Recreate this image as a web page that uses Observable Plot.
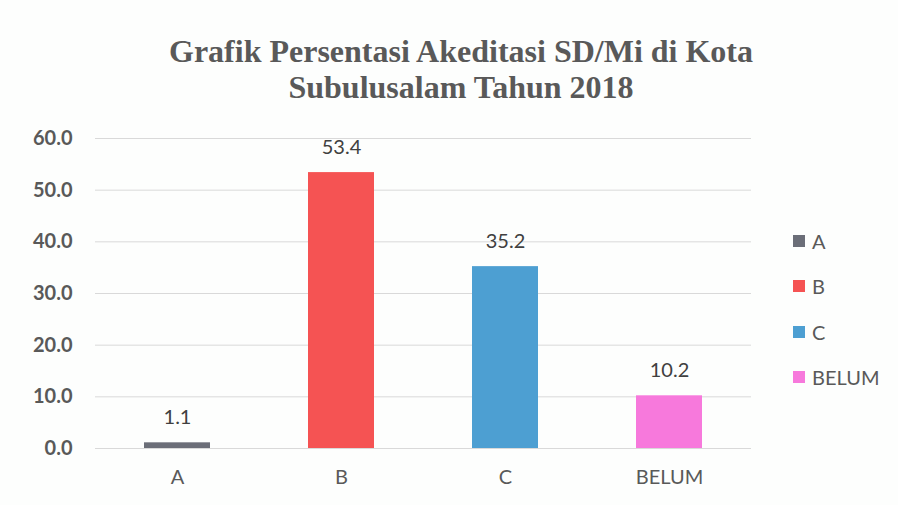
<!DOCTYPE html>
<html>
<head>
<meta charset="utf-8">
<script src="https://cdn.jsdelivr.net/npm/d3@7"></script>
<script src="https://cdn.jsdelivr.net/npm/@observablehq/plot@0.6"></script>
<style>
  html, body { margin: 0; padding: 0; background: #ffffff; }
  #wrap { position: relative; width: 898px; height: 505px; overflow: hidden; background: #fdfefd; }
  #title { position: absolute; left: 0; top: 33px; width: 922px; text-align: center;
    font-family: "Liberation Serif", "Times New Roman", serif; font-weight: bold; font-size: 32px;
    line-height: 36px; color: #595959; }
  #legend { position: absolute; left: 793px; top: 228px; font-family: Lato, "Open Sans", sans-serif;
    font-size: 20px; color: #595959; }
  .item { height: 45.3px; display: flex; align-items: flex-start; line-height: 26px; }
  .sw { width: 12px; height: 12px; margin-right: 7px; margin-top: 7px; }
  #chart { position: absolute; left: 0; top: 0; }
</style>
</head>
<body>
<div id="wrap">
  <div id="chart"></div>
  <div id="title">Grafik Persentasi Akeditasi SD/Mi di Kota<br>Subulusalam Tahun 2018</div>
  <div id="legend"></div>
</div>
<script>
const categories = ["A", "B", "C", "BELUM"];
const values = [1.1, 53.4, 35.2, 10.2];
const colors = ["#6b6e78", "#f55353", "#4d9fd2", "#f779dc"];
const yTicks = [0, 10, 20, 30, 40, 50, 60];

const data = categories.map((c, i) => ({cat: c, val: values[i]}));

const plot = Plot.plot({
  width: 898,
  height: 505,
  marginLeft: 95,
  marginRight: 147,
  marginTop: 138,
  marginBottom: 57,
  style: {background: "transparent", fontFamily: "Lato, 'Open Sans', sans-serif"},
  x: {domain: categories, paddingInner: 0.6, paddingOuter: 0.3, label: null},
  y: {domain: [0, 60], label: null},
  color: {domain: categories, range: colors},
  marks: [
    Plot.gridY(yTicks, {stroke: "#d9d9d9", strokeOpacity: 1, strokeWidth: 1}),
    Plot.axisY(yTicks, {tickSize: 0, tickPadding: 23, tickFormat: d => d.toFixed(1),
      fontSize: 20, fontWeight: "bold", fill: "#595959", label: null}),
    Plot.axisX({tickSize: 0, tickPadding: 21, fontSize: 20, fill: "#595959", label: null}),
    Plot.barY(data, {x: "cat", y: "val", fill: "cat"}),
    Plot.text(data, {x: "cat", y: "val", text: d => d.val.toFixed(1), dy: -25,
      fontSize: 20, fill: "#404040"})
  ]
});
document.getElementById("chart").appendChild(plot);

const leg = document.getElementById("legend");
categories.forEach((c, i) => {
  const it = document.createElement("div");
  it.className = "item";
  const sw = document.createElement("div");
  sw.className = "sw";
  sw.style.background = colors[i];
  const t = document.createElement("span");
  t.textContent = c;
  it.appendChild(sw); it.appendChild(t);
  leg.appendChild(it);
});
</script>
</body>
</html>
